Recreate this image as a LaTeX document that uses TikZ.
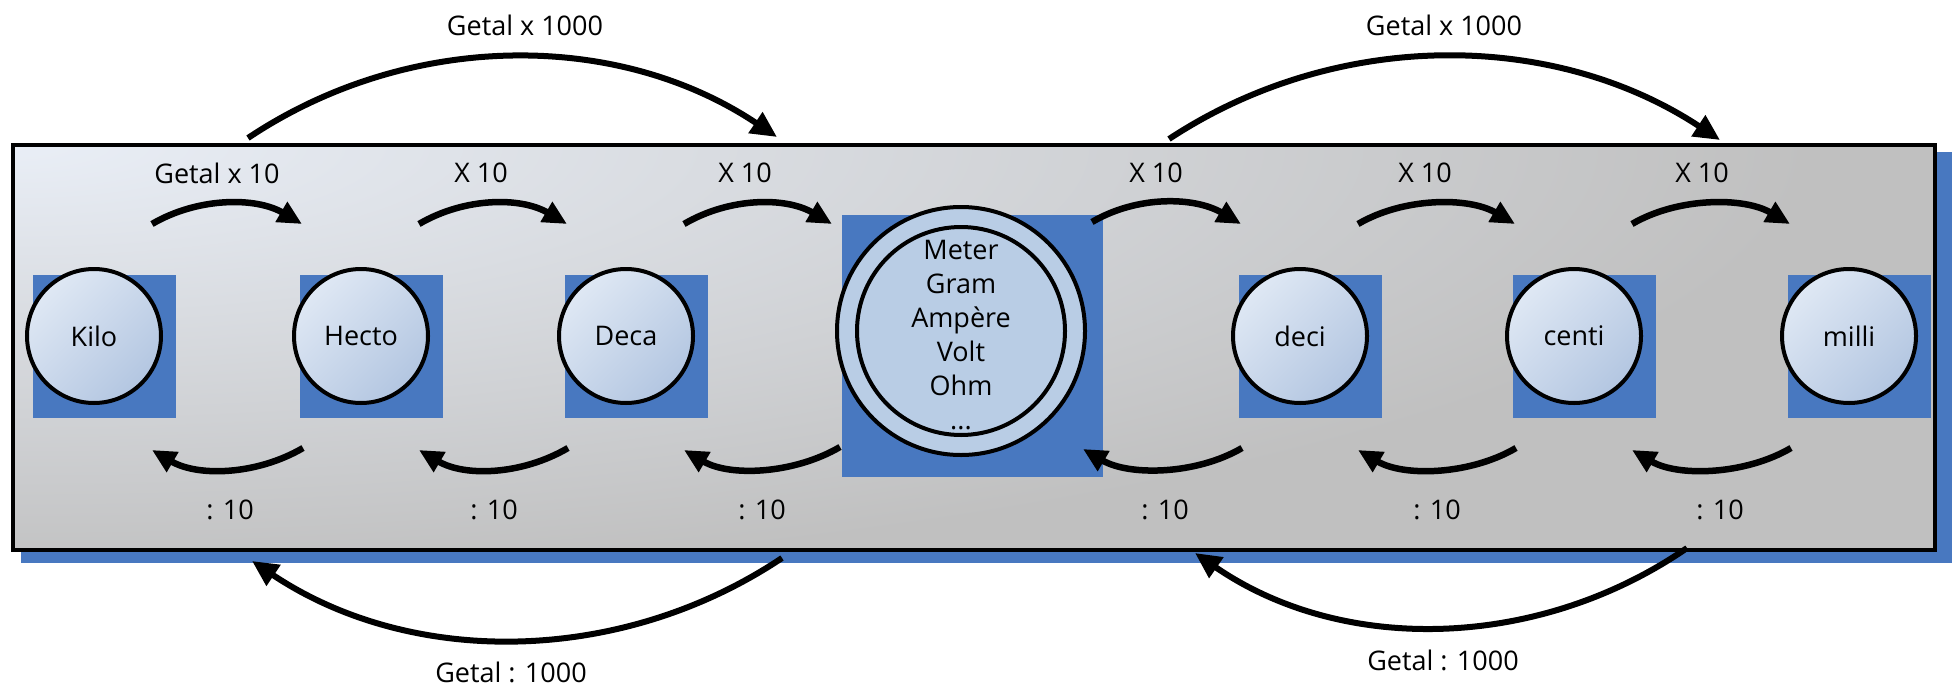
\documentclass[tikz,border=0pt]{standalone}
\usepackage{fontspec}
\setmainfont{Open Sans}
\usetikzlibrary{arrows.meta,calc}

\definecolor{sqblue}{HTML}{4878C0}
\definecolor{ringblue}{HTML}{B9CDE5}
\definecolor{ballhi}{HTML}{DFE8F4}
\definecolor{balllo}{HTML}{B3C6E1}
\definecolor{panelhi}{HTML}{E9EEF6}
\definecolor{panello}{HTML}{C0C0C0}

\begin{document}
\begin{tikzpicture}[x=1pt,y=-1pt,
  unitsq/.style={fill=sqblue, draw=none, minimum size=143pt, inner sep=0pt},
  unitball/.style={circle, draw=black, line width=4pt, minimum size=134pt,
    inner sep=0pt, top color=ballhi, bottom color=balllo, shading angle=45,
    font=\fontsize{27}{30}\selectfont},
  conv/.style={line width=6.5pt, -{Triangle[length=24pt,width=22pt]}},
  bigconv/.style={line width=6pt, -{Triangle[length=26pt,width=24pt]}},
  lbl/.style={font=\fontsize{27}{30}\selectfont}
]
\useasboundingbox (0,0) rectangle (1959,688);

% panel with its drop shadow; light glow from the upper left corner
\fill[sqblue] (21,152) rectangle (1952,563);
\fill[panello] (13,145) rectangle (1935,550);
\begin{scope}
  \clip (13,145) rectangle (1935,550);
  \shade[inner color=panelhi, outer color=panello]
    (13,145) ellipse [x radius=1800, y radius=440];
\end{scope}
\draw[line width=4pt] (13,145) rectangle (1935,550);

% blue squares behind the prefixes
\node[unitsq] (kilo-sq)  at (104.5,346.5) {};
\node[unitsq] (hecto-sq) at (371.5,346.5) {};
\node[unitsq] (deca-sq)  at (636.5,346.5) {};
\node[unitsq] (deci-sq)  at (1310.5,346.5) {};
\node[unitsq] (centi-sq) at (1584.5,346.5) {};
\node[unitsq] (milli-sq) at (1859.5,346.5) {};
\node[fill=sqblue, minimum width=261pt, minimum height=262pt, inner sep=0pt]
  (base-sq) at (972.5,346) {};

% prefix circles
\node[unitball] (kilo)  at ($(kilo-sq)+(-10.5,-10.5)$)  {Kilo};
\node[unitball] (hecto) at ($(hecto-sq)+(-10.5,-10.5)$) {Hecto};
\node[unitball] (deca)  at ($(deca-sq)+(-10.5,-10.5)$)  {Deca};
\node[unitball] (deci)  at ($(deci-sq)+(-10.5,-10.5)$)  {deci};
\node[unitball] (centi) at ($(centi-sq)+(-10.5,-10.5)$) {centi};
\node[unitball] (milli) at ($(milli-sq)+(-10.5,-10.5)$) {milli};

% base units
\node[circle, draw=black, line width=4pt, fill=ringblue, minimum size=248pt, inner sep=0pt]
  (base) at (961,331) {};
\node[circle, draw=black, line width=4pt, minimum size=208pt, inner sep=0pt]
  (base-in) at (base) {};
\node[align=center, font=\fontsize{27}{34}\selectfont] (base-txt) at (961,335)
  {Meter\\Gram\\Ampère\\Volt\\Ohm\\...};

% step by step: multiply by 10
\draw[conv] ($(kilo)+(58,-112)$)  .. controls +(46,-27) and +(-46,-27) .. ($(hecto)+(-59,-112)$);
\draw[conv] ($(hecto)+(58,-112)$) .. controls +(46,-27) and +(-46,-27) .. ($(deca)+(-59,-112)$);
\draw[conv] ($(deca)+(58,-112)$)  .. controls +(46,-27) and +(-46,-27) .. ($(base)+(-129,-107)$);
\draw[conv] ($(base)+(131,-109)$) .. controls +(46,-27) and +(-46,-27) .. ($(deci)+(-59,-112)$);
\draw[conv] ($(deci)+(58,-112)$)  .. controls +(46,-27) and +(-46,-27) .. ($(centi)+(-59,-112)$);
\draw[conv] ($(centi)+(58,-112)$) .. controls +(46,-27) and +(-46,-27) .. ($(milli)+(-59,-112)$);

% step by step: divide by 10
\draw[conv] ($(hecto)+(-58,112)$) .. controls +(-46,27) and +(46,27) .. ($(kilo)+(58,114)$);
\draw[conv] ($(deca)+(-58,112)$)  .. controls +(-46,27) and +(46,27) .. ($(hecto)+(58,114)$);
\draw[conv] ($(base)+(-121,116)$) .. controls +(-46,27) and +(46,27) .. ($(deca)+(58,114)$);
\draw[conv] ($(deci)+(-58,112)$)  .. controls +(-46,27) and +(46,27) .. ($(base)+(122,118)$);
\draw[conv] ($(centi)+(-58,112)$) .. controls +(-46,27) and +(46,27) .. ($(deci)+(58,114)$);
\draw[conv] ($(milli)+(-58,112)$) .. controls +(-46,27) and +(46,27) .. ($(centi)+(58,114)$);

% labels of the single steps
\node[lbl] (l-up1) at (217,173)  {Getal x 10};
\node[lbl] (l-up2) at (481,173)  {X 10};
\node[lbl] (l-up3) at (745,173)  {X 10};
\node[lbl] (l-up4) at (1156,173) {X 10};
\node[lbl] (l-up5) at (1425,173) {X 10};
\node[lbl] (l-up6) at (1702,173) {X 10};
\node[lbl] (l-dn1) at (230,510)  {: 10};
\node[lbl] (l-dn2) at (494,510)  {: 10};
\node[lbl] (l-dn3) at (762,510)  {: 10};
\node[lbl] (l-dn4) at (1165,510) {: 10};
\node[lbl] (l-dn5) at (1437,510) {: 10};
\node[lbl] (l-dn6) at (1720,510) {: 10};

% jumps of three steps
\coordinate (tl-a) at (248,138);  \coordinate (tl-b) at (777,137);
\coordinate (tr-a) at (1169,139); \coordinate (tr-b) at (1720,140);
\coordinate (bl-a) at (782,558);  \coordinate (bl-b) at (252,561);
\coordinate (br-a) at (1687,548); \coordinate (br-b) at (1195,553);
\draw[bigconv] (tl-a) .. controls +(160,-107) and +(-160,-107) .. (tl-b);
\draw[bigconv] (tr-a) .. controls +(167,-110) and +(-167,-110) .. (tr-b);
\draw[bigconv] (bl-a) .. controls +(-160,107) and +(160,107) .. (bl-b);
\draw[bigconv] (br-a) .. controls +(-148,102) and +(148,102) .. (br-b);

\node[lbl] (l-tl) at (525,25)  {Getal x 1000};
\node[lbl] (l-tr) at (1444,25) {Getal x 1000};
\node[lbl] (l-bl) at (511,672) {Getal : 1000};
\node[lbl] (l-br) at (1443,660) {Getal : 1000};
\end{tikzpicture}
\end{document}
